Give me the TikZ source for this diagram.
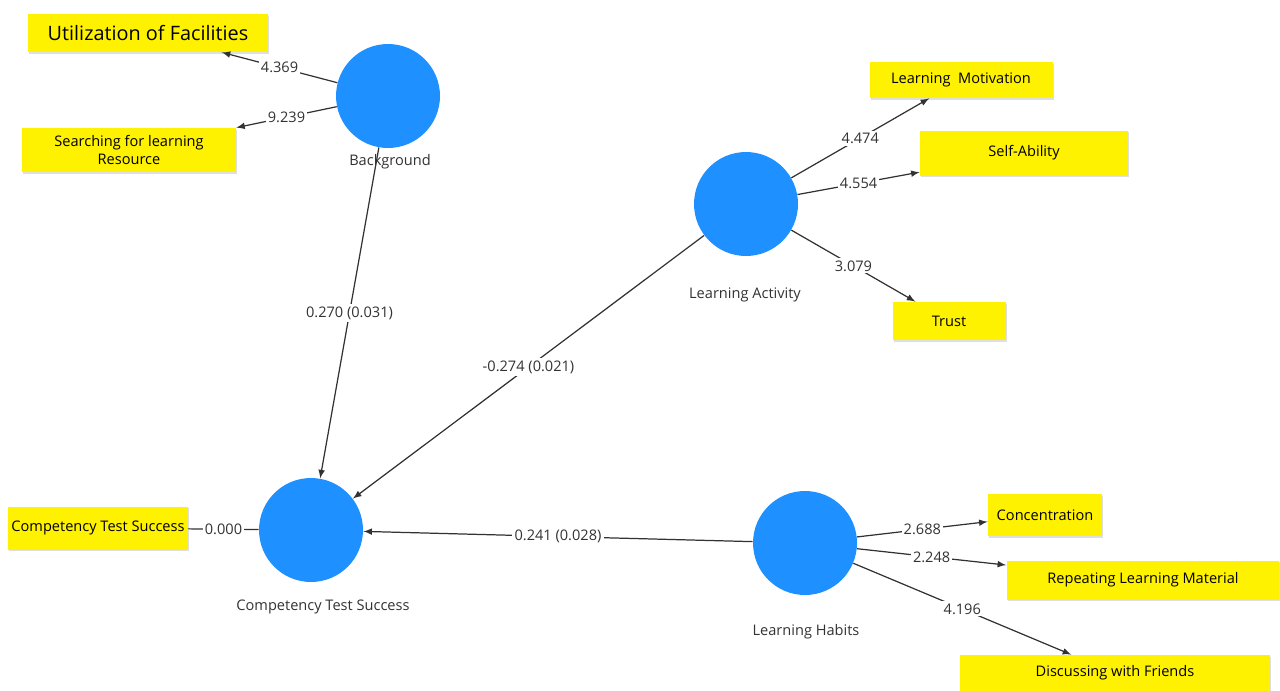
\documentclass[tikz,border=0pt]{standalone}
\usepackage{fontspec}
\setmainfont{Open Sans}
\usetikzlibrary{calc, shapes, arrows, shadows}
\usepackage{xcolor}
\definecolor{latentblue}{RGB}{30,144,255}
\definecolor{itemyellow}{RGB}{255,242,0}
\definecolor{linegray}{RGB}{50,50,50}

\begin{document}
\begin{tikzpicture}[x=0.02cm, y=-0.02cm, >=latex]
				\newcommand{\mylabelfont}[1]{
					\fontsize{8.3}{9.6}\selectfont{#1}
				}\newcommand{\mybigfont}[1]{
					\fontsize{11.3}{13}\selectfont{#1}
				}%Page frame
				\useasboundingbox (0,0) rectangle (1280,690);
				\tikzset{
					latent/.style={circle, fill=latentblue, draw=none, minimum size=2.08cm, inner sep=0pt},
					indicator/.style={rectangle, fill=itemyellow, draw=none, inner sep=2pt,
						drop shadow={shadow xshift=0.6pt, shadow yshift=-0.9pt, opacity=0.25}},
					path/.style={draw=linegray, line width=0.7pt},
					weight/.style={fill=white, inner sep=1.2pt, text=linegray}
				}
				%Latent variables
				\node [latent] (background) at (388,96) {};
				\node [latent] (activity) at (746,204) {};
				\node [latent] (success) at (311,530) {};
				\node [latent] (habits) at (805,543) {};
				%Names under the circles
				\node [text=linegray] (backgroundname) at (390,162) {\mylabelfont{Background}};
				\node [text=linegray] (activityname) at (745,295) {\mylabelfont{Learning Activity}};
				\node [text=linegray] (successname) at (323,607) {\mylabelfont{Competency Test Success}};
				\node [text=linegray] (habitsname) at (806,632) {\mylabelfont{Learning Habits}};
				%Indicators of Background
				\node [indicator, minimum width=4.8cm, minimum height=0.76cm] (facilities) at (148,33) {\mybigfont{Utilization of Facilities}};
				\node [indicator, minimum width=4.28cm, minimum height=0.88cm, align=center] (resource) at (129,150) {\mylabelfont{Searching for learning}\\[-2pt]\mylabelfont{Resource}};
				%Indicators of Learning Activity
				\node [indicator, minimum width=3.66cm, minimum height=0.72cm] (motivation) at (961,80) {\mylabelfont{Learning~~Motivation}};
				\node [indicator, minimum width=4.16cm, minimum height=0.9cm] (selfability) at (1024,153) {\mylabelfont{Self-Ability}};
				\node [indicator, minimum width=2.26cm, minimum height=0.76cm] (trust) at (949,321) {\mylabelfont{Trust}};
				%Indicator of Competency Test Success
				\node [indicator, minimum width=3.6cm, minimum height=0.86cm, inner sep=0pt] (successitem) at (98,528) {\mylabelfont{Competency Test Success}};
				%Indicators of Learning Habits
				\node [indicator, minimum width=2.28cm, minimum height=0.84cm] (concentration) at (1045,515) {\mylabelfont{Concentration}};
				\node [indicator, minimum width=5.46cm, minimum height=0.78cm] (repeating) at (1143,580) {\mylabelfont{Repeating Learning Material}};
				\node [indicator, minimum width=6.2cm, minimum height=0.72cm] (discussing) at (1115,673) {\mylabelfont{Discussing with Friends}};
				%Outer loadings
				\draw [path, ->] (background) -- node [weight] (w1) {\mylabelfont{4.369}} (facilities);
				\draw [path, ->] (background) -- node [weight] (w2) {\mylabelfont{9.239}} (resource);
				\draw [path, ->] (activity) -- node [weight] (w3) {\mylabelfont{4.474}} (motivation);
				\draw [path, ->] (activity) -- node [weight] (w4) {\mylabelfont{4.554}} (selfability);
				\draw [path, ->] (activity) -- node [weight] (w5) {\mylabelfont{3.079}} (trust);
				\draw [path] (success) -- node [weight] (w6) {\mylabelfont{0.000}} (successitem);
				\draw [path, ->] (habits) -- node [weight] (w7) {\mylabelfont{2.688}} (concentration);
				\draw [path, ->] (habits) -- node [weight] (w8) {\mylabelfont{2.248}} (repeating);
				\draw [path, ->] (habits) -- node [weight] (w9) {\mylabelfont{4.196}} (discussing);
				%Inner paths
				\draw [path, ->] (background) -- node [weight] (p1) {\mylabelfont{0.270 (0.031)}} (success);
				\draw [path, ->] (activity) -- node [weight] (p2) {\mylabelfont{-0.274 (0.021)}} (success);
				\draw [path, ->] (habits) -- node [weight] (p3) {\mylabelfont{0.241 (0.028)}} (success);
				\end{tikzpicture}
\end{document}
